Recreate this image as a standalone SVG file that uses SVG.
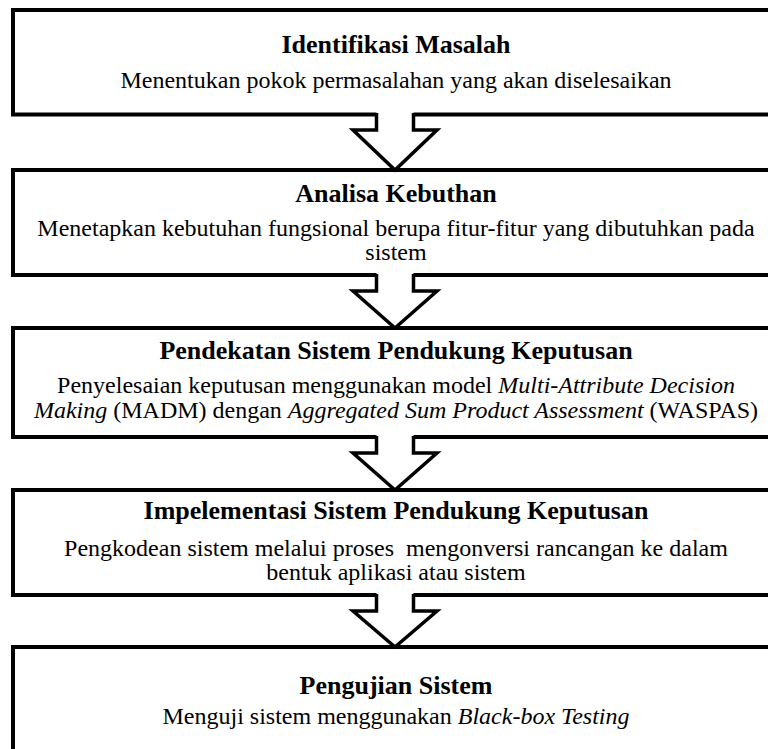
<svg xmlns="http://www.w3.org/2000/svg" width="768" height="749" viewBox="0 0 768 749">
<style>
.box{fill:#fff;stroke:#000;stroke-width:4}
.ar{fill:none;stroke:#000;stroke-width:3.5;stroke-linejoin:miter}
.arf{fill:#fff;stroke:none}
text{font-family:"Liberation Serif","Times New Roman",serif;fill:#000;text-anchor:middle}
.t{font-size:26px;font-weight:bold}
.b{font-size:24px}
.i{font-style:italic}
</style>
<rect width="768" height="749" fill="#fff"/>
<g id="n1">
<rect class="box" x="13" y="10" width="766" height="104.5"/>
<text class="t" x="396" y="53">Identifikasi Masalah</text>
<text class="b" x="396" y="88">Menentukan pokok permasalahan yang akan diselesaikan</text>
</g>
<g id="n2">
<rect class="box" x="13" y="170" width="766" height="105"/>
<text class="t" x="396" y="202">Analisa Kebuthan</text>
<text class="b" x="396" y="236">Menetapkan kebutuhan fungsional berupa fitur-fitur yang dibutuhkan pada</text>
<text class="b" x="396" y="260">sistem</text>
</g>
<g id="n3">
<rect class="box" x="13" y="328" width="766" height="109"/>
<text class="t" x="396" y="359">Pendekatan Sistem Pendukung Keputusan</text>
<text class="b" x="396" y="393">Penyelesaian keputusan menggunakan model <tspan class="i">Multi-Attribute Decision</tspan></text>
<text class="b" x="396" y="418"><tspan class="i">Making</tspan> (MADM) dengan <tspan class="i">Aggregated Sum Product Assessment</tspan> (WASPAS)</text>
</g>
<g id="n4">
<rect class="box" x="13" y="490" width="766" height="105"/>
<text class="t" x="396" y="519">Impelementasi Sistem Pendukung Keputusan</text>
<text class="b" x="396" y="556" xml:space="preserve">Pengkodean sistem melalui proses  mengonversi rancangan ke dalam</text>
<text class="b" x="396" y="580">bentuk aplikasi atau sistem</text>
</g>
<g id="n5">
<rect class="box" x="13" y="647" width="766" height="130"/>
<text class="t" x="396" y="694">Pengujian Sistem</text>
<text class="b" x="396" y="724">Menguji sistem menggunakan <tspan class="i">Black-box Testing</tspan></text>
</g>
<g id="connectors">
<polygon class="arf" points="376.5,111 376.5,130 353,130 395,170 437,130 413.5,130 413.5,111"/>
<polyline class="ar" points="376.5,113 376.5,130 353,130 395,170 437,130 413.5,130 413.5,113"/>
<polygon class="arf" points="376.5,272 376.5,291 353,291 395,328 437,291 413.5,291 413.5,272"/>
<polyline class="ar" points="376.5,274 376.5,291 353,291 395,328 437,291 413.5,291 413.5,274"/>
<polygon class="arf" points="376.5,434 376.5,453 353,453 395,490 437,453 413.5,453 413.5,434"/>
<polyline class="ar" points="376.5,436 376.5,453 353,453 395,490 437,453 413.5,453 413.5,436"/>
<polygon class="arf" points="376.5,592 376.5,611 353,611 395,647 437,611 413.5,611 413.5,592"/>
<polyline class="ar" points="376.5,594 376.5,611 353,611 395,647 437,611 413.5,611 413.5,594"/>
</g>
</svg>
